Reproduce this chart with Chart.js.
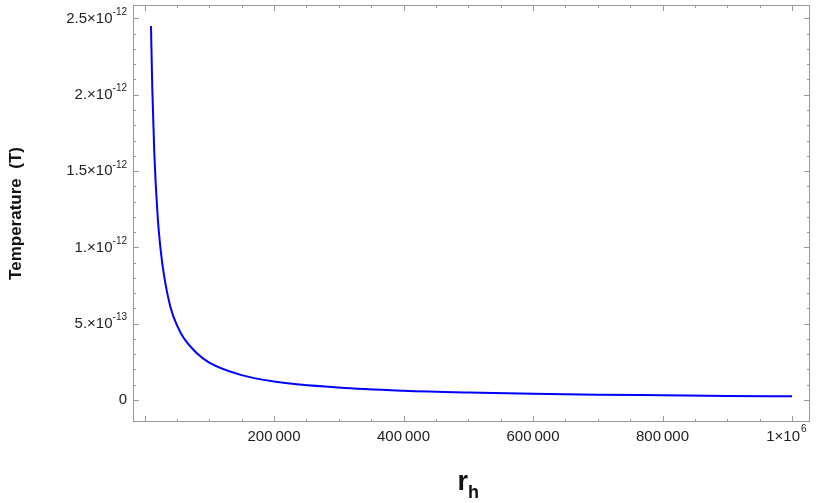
<!DOCTYPE html>
<html><head><meta charset="utf-8">
<script src="https://cdn.jsdelivr.net/npm/chart.js@4"></script>
<style>html,body{margin:0;padding:0;background:#fff}#w{width:830px;height:503px}</style>
</head><body><div id="w"><canvas id="c"></canvas></div>
<script>
const rValues = [10000,12000,15000,20000,25000,30000,40000,50000,60000,80000,100000,150000,200000,300000,400000,500000,600000,700000,800000,900000,1000000];
const temperature = [2.45e-12,2.04e-12,1.63e-12,1.22e-12,0.98e-12,0.82e-12,0.61e-12,0.49e-12,0.41e-12,0.31e-12,0.245e-12,0.163e-12,0.122e-12,0.082e-12,0.061e-12,0.049e-12,0.041e-12,0.035e-12,0.031e-12,0.027e-12,0.0245e-12];
const xTicks = [200000,400000,600000,800000,1000000];
const xTickLabels = ["200\u2009000","400\u2009000","600\u2009000","800\u2009000",null];
const yTicks = [0,5e-13,1e-12,1.5e-12,2e-12,2.5e-12];
const yTickMant = ["0","5.","1.","1.5","2.","2.5"];
const yTickExp = [null,"-13","-12","-12","-12","-12"];

const deco = {id:'deco', afterDraw(ch){
  const c=ch.ctx, a=ch.chartArea, xs=ch.scales.x, ys=ch.scales.y;
  c.save();
  c.strokeStyle='#999'; c.lineWidth=1;
  c.strokeRect(a.left+0.5,a.top+0.5,a.right-a.left-1,a.bottom-a.top-1);
  c.fillStyle='#222'; const F='15px "Liberation Sans"', FS='10px "Liberation Sans"';
  c.font=F;
  for(let v=0; v<=1000000; v+=50000){
    const p=Math.round(xs.getPixelForValue(v))+0.5, L=(v%200000===0)?6:3;
    c.beginPath(); c.moveTo(p,a.bottom); c.lineTo(p,a.bottom-L); c.moveTo(p,a.top); c.lineTo(p,a.top+L); c.stroke();
  }
  c.textAlign='center'; c.textBaseline='top';
  xTicks.forEach((v,i)=>{
    const p=xs.getPixelForValue(v);
    if(xTickLabels[i]) c.fillText(xTickLabels[i],p,a.bottom+7);
    else { c.textAlign='right'; c.fillText('1\u00d710',p+8,a.bottom+7);
      c.font=FS; c.textAlign='left'; c.fillText('6',p+9,a.bottom+2);
      c.font=F; c.textAlign='center'; }
  });
  for(let v=0; v<=2.5e-12+1e-20; v+=1e-13){
    const p=Math.round(ys.getPixelForValue(v))+0.5, L=(Math.round(v/1e-13)%5===0)?6:3;
    c.beginPath(); c.moveTo(a.left,p); c.lineTo(a.left+L,p); c.moveTo(a.right,p); c.lineTo(a.right-L,p); c.stroke();
  }
  c.textBaseline='middle';
  yTicks.forEach((v,i)=>{
    const p=ys.getPixelForValue(v); const right=a.left-6;
    c.font=F;
    if(!yTickExp[i]){ c.textAlign='right'; c.fillText(yTickMant[i],right,p); return; }
    c.font=FS; const ew=c.measureText(yTickExp[i]).width;
    c.textAlign='right'; c.fillText(yTickExp[i],right,p-6);
    c.font=F; c.fillText(yTickMant[i]+'\u00d710',right-ew,p);
  });
  c.fillStyle='#111';
  c.save(); c.translate(16,(a.top+a.bottom)/2); c.rotate(-Math.PI/2);
  c.font='bold 17px "Liberation Sans"'; c.textAlign='center'; c.fillText('Temperature  (T)',0,0); c.restore();
  c.font='bold 27px "Liberation Sans"'; c.textAlign='right'; c.textBaseline='alphabetic';
  c.fillText('r',468,490); c.font='bold 18px "Liberation Sans"'; c.textAlign='left'; c.fillText('h',468,498);
  c.restore();
}};

new Chart(document.getElementById('c'),{
  type:'line',
  data:{datasets:[{data:rValues.map((r,i)=>({x:r,y:temperature[i]})),borderColor:'#0000ff',borderWidth:2,pointRadius:0,cubicInterpolationMode:'monotone',fill:false}]},
  options:{responsive:true,maintainAspectRatio:false,animation:false,
    layout:{padding:{left:133,right:20,top:5,bottom:81}},
    plugins:{legend:{display:false},tooltip:{enabled:false}},
    scales:{
      x:{type:'linear',min:-17800,max:1027800,display:false},
      y:{type:'linear',min:-0.144e-12,max:2.588e-12,display:false}
    }},
  plugins:[deco]
});
</script></body></html>
